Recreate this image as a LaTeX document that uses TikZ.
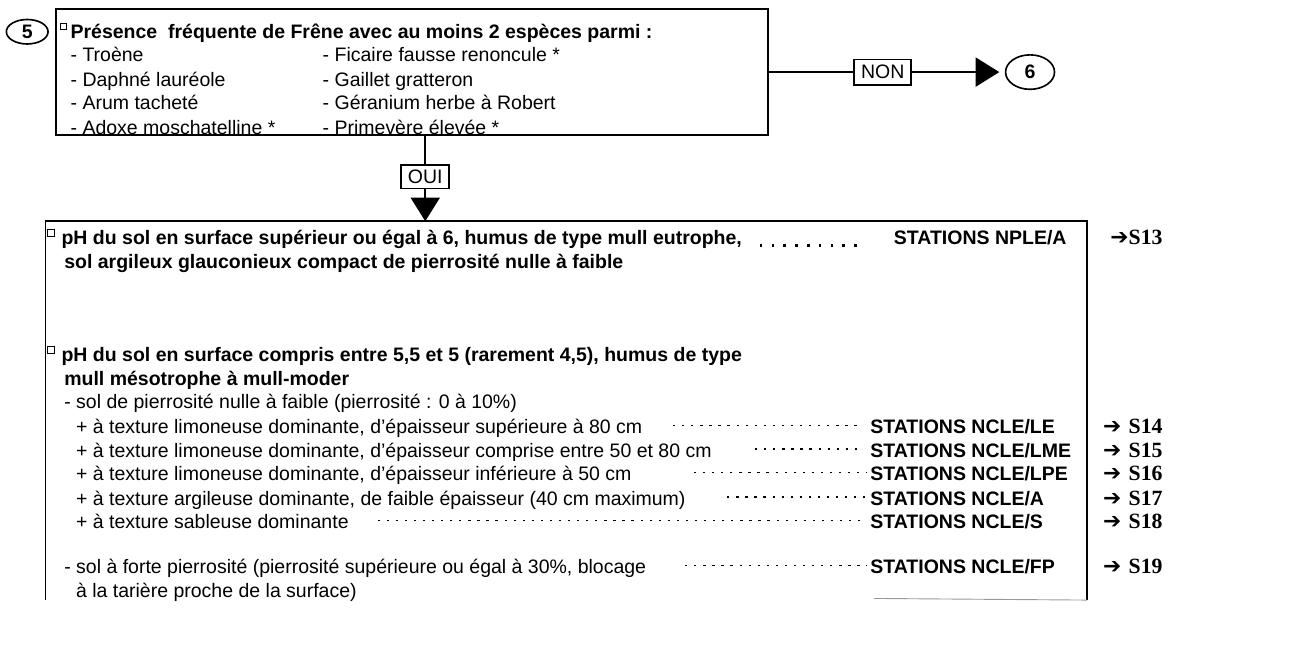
\documentclass[tikz,border=0pt]{standalone}
\usepackage{fontspec}
\setmainfont{Liberation Sans}
\newfontfamily\romfont{Liberation Serif}
\newfontfamily\flfont{DejaVu Sans}
\usetikzlibrary{arrows.meta,shapes.geometric}
\newcommand\fl[1]{{\flfont\fontsize{24}{28}\selectfont ➔}#1}

\begin{document}
\begin{tikzpicture}[x=1pt,y=-1pt,line width=1.8pt,
 txt/.style={anchor=base west,inner sep=0pt,text height=18pt,text depth=0pt,font=\fontsize{21.5}{25}\selectfont},
 gras/.style={txt,font=\fontsize{21.5}{25}\selectfont\bfseries},
 cadre/.style={draw,inner sep=0pt,font=\fontsize{21.5}{25}\selectfont},
 rond/.style={draw,ellipse,inner sep=0pt,font=\fontsize{21.5}{25}\selectfont\bfseries},
 case/.style={draw,line width=.9pt,minimum size=7pt,inner sep=0pt},
 pts/.style={line width=1.5pt,dash pattern=on 2.5pt off 7.5pt},
 gpts/.style={line width=2.7pt,dash pattern=on 2.7pt off 10.3pt},
 sfx/.style={anchor=base east,inner sep=0pt,font=\romfont\bfseries\fontsize{24}{28}\selectfont},
 tri/.style={-{Triangle[length=26pt,width=32pt]}}]
\useasboundingbox(0,0)rectangle(1422.7,729);
\node[rond,minimum width=46pt,minimum height=27pt](cinq)at(30,35){5};
\node[cadre,minimum width=785pt,minimum height=139pt](haut)at(454.5,79.5){};
\node[case](c1)at(70,29){};
\node[gras](titre)at(77,42){Présence\ \ fréquente de Frêne avec au moins 2 espèces parmi :};
\node[txt](e1)at(77,68){- Troène};\node[txt](e2)at(355,68){- Ficaire fausse renoncule *};
\node[txt](e3)at(77,95){- Daphné lauréole};\node[txt](e4)at(355,95){- Gaillet gratteron};
\node[txt](e5)at(77,121){- Arum tacheté};\node[txt](e6)at(355,121){- Géranium herbe à Robert};
\node[txt](e7)at(77,148){- Adoxe moschatelline *};\node[txt](e8)at(355,148){- Primevère élevée *};
\node[cadre,minimum width=63pt,minimum height=28pt](non)at(973.5,79.5){NON};
\node[rond,minimum width=54pt,minimum height=38pt](six)at(1136,79.5){6};
\draw(haut.east)--(non);\draw[tri,shorten >=6pt](non)--(six);
\node[cadre,minimum width=53pt,minimum height=26pt](oui)at(469,195){OUI};
\draw(haut.south -| oui)--(oui);
\node[minimum width=1147pt,minimum height=416pt,inner sep=0pt,anchor=north west](bas)at(50,244){};
\draw(bas.south west)|-(bas.north east)--(bas.south east);
\coordinate(fin)at(964,660);\draw[black!40,line width=1pt](fin)--(bas.south east);
\draw[tri](oui)--(bas.north -| oui);
\node[case](c2)at(56,257){};
\node[gras](p1)at(67,270){pH du sol en surface supérieur ou égal à 6, humus de type mull eutrophe,};
\node[gras](n0)at(985,270){STATIONS NPLE/A};
\draw[gpts,shorten <=19pt,shorten >=30pt](p1.south east)--(n0.south west);
\node[sfx](s13)at(1283,270){\fl{S13}};
\node[gras](p2)at(70,296){sol argileux glauconieux compact de pierrosité nulle à faible};
\node[case](c3)at(56,386){};
\node[gras](p3)at(67,399){pH du sol en surface compris entre 5,5 et 5 (rarement 4,5), humus de type};
\node[gras](p4)at(70,425){mull mésotrophe à mull-moder};
\node[txt](p5)at(70,451){- sol de pierrosité nulle à faible (pierrosité : 0 à 10\%)};
\node[txt](l1)at(83,478){+ à texture limoneuse dominante, d'épaisseur supérieure à 80 cm};
\node[gras](n1)at(959,478){STATIONS NCLE/LE};\node[sfx](s14)at(1283,478){\fl{\hspace{8pt}S14}};
\draw[pts,shorten <=33pt,shorten >=12pt](l1.east)--(n1.west);
\node[txt](l2)at(83,504){+ à texture limoneuse dominante, d'épaisseur comprise entre 50 et 80 cm};
\node[gras](n2)at(959,504){STATIONS NCLE/LME};\node[sfx](s15)at(1283,504){\fl{\hspace{8pt}S15}};
\draw[pts,shorten <=47pt,shorten >=12pt](l2.east)--(n2.west);
\node[txt](l3)at(83,530){+ à texture limoneuse dominante, d'épaisseur inférieure à 50 cm};
\node[gras](n3)at(959,530){STATIONS NCLE/LPE};\node[sfx](s16)at(1283,530){\fl{\hspace{8pt}S16}};
\draw[pts,shorten <=68pt,shorten >=3pt](l3.east)--(n3.west);
\node[txt](l4)at(83,557){+ à texture argileuse dominante, de faible épaisseur (40 cm maximum)};
\node[gras](n4)at(959,557){STATIONS NCLE/A};\node[sfx](s17)at(1283,557){\fl{\hspace{8pt}S17}};
\draw[pts,shorten <=45pt,shorten >=3pt](l4.east)--(n4.west);
\node[txt](l5)at(83,583){+ à texture sableuse dominante};
\node[gras](n5)at(959,583){STATIONS NCLE/S};\node[sfx](s18)at(1283,583){\fl{\hspace{8pt}S18}};
\draw[pts,shorten <=31pt,shorten >=3pt](l5.east)--(n5.west);
\node[txt](l6)at(70,633){- sol à forte pierrosité (pierrosité supérieure ou égal à 30\%, blocage};
\node[gras](n6)at(959,633){STATIONS NCLE/FP};\node[sfx](s19)at(1283,633){\fl{\hspace{8pt}S19}};
\draw[pts,shorten <=42pt,shorten >=3pt](l6.east)--(n6.west);
\node[txt](l7)at(83,659){à la tarière proche de la surface)};
\end{tikzpicture}
\end{document}
